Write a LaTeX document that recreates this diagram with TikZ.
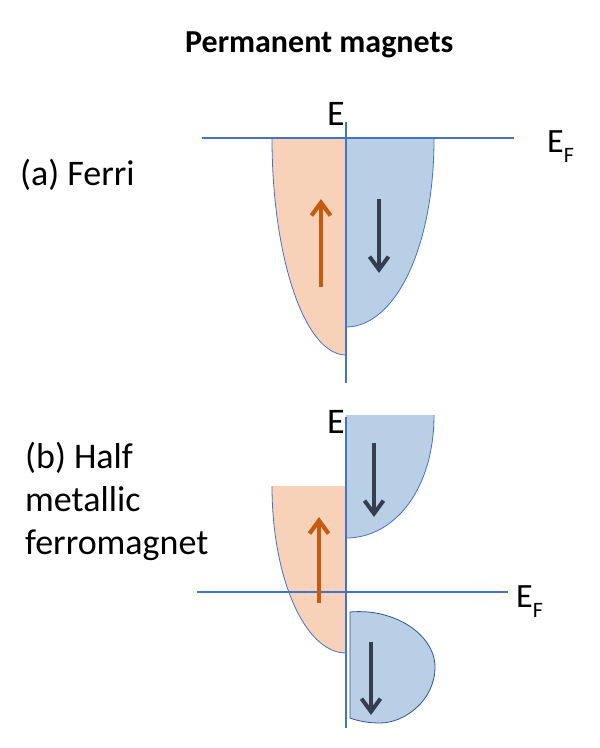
\documentclass[tikz,border=0pt]{standalone}
\usepackage{fontspec}
\setmainfont{Carlito}
\usetikzlibrary{arrows.meta}
\definecolor{orfill}{HTML}{F7D2B9}
\definecolor{blfill}{HTML}{B9CFE6}
\definecolor{axisblue}{HTML}{4472C4}
\definecolor{edgeblue}{HTML}{2F5597}
\definecolor{uparrow}{HTML}{C55A11}
\definecolor{downarrow}{HTML}{333F50}
\tikzset{
  lbl/.style={inner sep=0pt, anchor=base west, font=\fontsize{36}{43}\selectfont},
  axisline/.style={draw=axisblue, line width=1.1pt},
  edge/.style={draw=axisblue, line width=0.8pt},
  spinup/.style={draw=uparrow, line width=4pt, -{Straight Barb[length=13pt,width=19pt,line width=4.2pt]}},
  spindown/.style={draw=downarrow, line width=3.6pt, -{Straight Barb[length=13pt,width=19pt,line width=4pt]}}
}
\newcommand{\EF}{E\raisebox{-10pt}{\fontsize{22}{22}\selectfont F}}
\begin{document}
\begin{tikzpicture}[x=1pt,y=-1pt]
\useasboundingbox (0,0) rectangle (600,748);
\fill[white] (0,0) rectangle (600,748);

% title
\node[inner sep=0pt, anchor=base west, font=\fontsize{32}{38}\selectfont\bfseries] (title) at (185,52) {Permanent magnets};

% ---------- (a) Ferri ----------
\node[lbl] (la) at (20,185) {(a) Ferri};
\fill[orfill] (346,138) -- (272,138) .. controls (272,258) and (305,355) .. (346,355) -- cycle;
\draw[edge] (272,138) .. controls (272,258) and (305,355) .. (346,355);
\fill[blfill] (346,139) -- (434,139) .. controls (434,250) and (394,327) .. (346,327) -- cycle;
\draw[edge] (434,139) .. controls (434,250) and (394,327) .. (346,327);

\coordinate (aaxT) at (346,122);
\coordinate (aaxB) at (346,383);
\coordinate (aefL) at (202,138);
\coordinate (aefR) at (514,138);
\draw[axisline] (aaxT) -- (aaxB);
\draw[axisline] (aefL) -- (aefR);
\node[lbl] (aE) at (327,125) {E};
\node[lbl, font=\fontsize{34}{40}\selectfont] (aEF) at (547,152) {\EF};

\coordinate (aupS) at (321,287);
\coordinate (aupE) at (321,199);
\coordinate (adnS) at (379,199);
\coordinate (adnE) at (379,273);
\draw[spinup] (aupS) -- (aupE);
\draw[spindown] (adnS) -- (adnE);

% ---------- (b) Half metallic ferromagnet ----------
\node[lbl] (b1) at (25,468) {(b) Half};
\node[lbl] (b2) at (25,511) {metallic};
\node[lbl] (b3) at (25,554) {ferromagnet};

\fill[blfill] (346,415) -- (434,415) .. controls (434,490) and (394,538) .. (346,538) -- cycle;
\draw[edge] (434,415) .. controls (434,490) and (394,538) .. (346,538);
\fill[orfill] (346,486) -- (272,486) .. controls (272,578) and (305,653) .. (346,653) -- cycle;
\draw[edge] (272,486) .. controls (272,578) and (305,653) .. (346,653);
\filldraw[fill=blfill, draw=edgeblue, line width=0.8pt]
  (350,718) -- (350,612) .. controls (395,608) and (435,635) .. (435,667)
  .. controls (435,700) and (405,723) .. (380,723)
  .. controls (368,723) and (358,721) .. (350,718) -- cycle;

\coordinate (baxT) at (346,417);
\coordinate (baxB) at (346,728);
\coordinate (befL) at (197,592);
\coordinate (befR) at (508,592);
\draw[axisline] (baxT) -- (baxB);
\draw[axisline] (befL) -- (befR);
\node[lbl] (bE) at (327,433) {E};
\node[lbl, font=\fontsize{34}{40}\selectfont] (bEF) at (516,607) {\EF};

\coordinate (bdn1S) at (374,443);
\coordinate (bdn1E) at (374,517);
\coordinate (bupS) at (319,603);
\coordinate (bupE) at (319,517);
\coordinate (bdn2S) at (371,642);
\coordinate (bdn2E) at (371,715);
\draw[spindown] (bdn1S) -- (bdn1E);
\draw[spinup] (bupS) -- (bupE);
\draw[spindown] (bdn2S) -- (bdn2E);
\end{tikzpicture}
\end{document}
